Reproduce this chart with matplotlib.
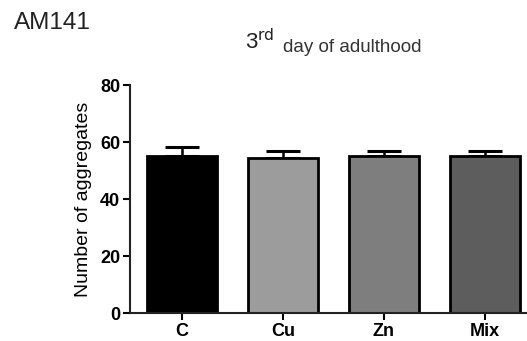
import matplotlib.pyplot as plt
import numpy as np

plt.rcParams['font.family'] = ['Liberation Sans', 'DejaVu Sans']

groups = ['C', 'Cu', 'Zn', 'Mix']
means = [55.2, 54.4, 55.1, 55.0]
sem = [3.1, 2.3, 1.9, 1.8]
colors = ['#000000', '#9c9c9c', '#7e7e7e', '#5d5d5d']

fig = plt.figure(figsize=(5.27, 3.41), dpi=100)
ax = fig.add_axes([0.2467, 0.0821, 0.80, 0.6686])

x = np.arange(len(groups))
# error bars go first so the bars hide the lower half
ax.errorbar(x, means, yerr=[np.zeros(len(sem)), sem], fmt='none',
            ecolor='black', elinewidth=1.8, capsize=12, capthick=2.2, zorder=1)
ax.bar(x, means, width=0.69, color=colors, edgecolor='black', linewidth=2.0, zorder=2)

ax.set_ylim(0, 80)
ax.set_xlim(-0.515, 3.66)
ax.set_yticks([0, 20, 40, 60, 80])
ax.set_xticks(x)
ax.set_xticklabels(groups, fontsize=13, fontweight='bold')
for lab in ax.get_yticklabels():
    lab.set_fontsize(13)
    lab.set_fontweight('bold')
ax.set_ylabel('Number of aggregates', fontsize=14, labelpad=6)

ax.spines['right'].set_visible(False)
ax.spines['top'].set_visible(False)
ax.spines['left'].set_linewidth(1.5)
ax.spines['bottom'].set_linewidth(1.5)
ax.spines['left'].set_color('#222222')
ax.spines['bottom'].set_color('#222222')
ax.tick_params(axis='both', width=1.5, length=5, pad=2)

fig.text(0.027, 0.965, 'AM141', fontsize=17.5, color='#222222', va='top')
fig.text(0.465, 0.857, r'3$^{\rm rd}$', fontsize=16, color='#222222', va='baseline')
fig.text(0.537, 0.848, 'day of adulthood', fontsize=13.5, color='#333333', va='baseline')

fig.savefig('out.png', dpi=100)
